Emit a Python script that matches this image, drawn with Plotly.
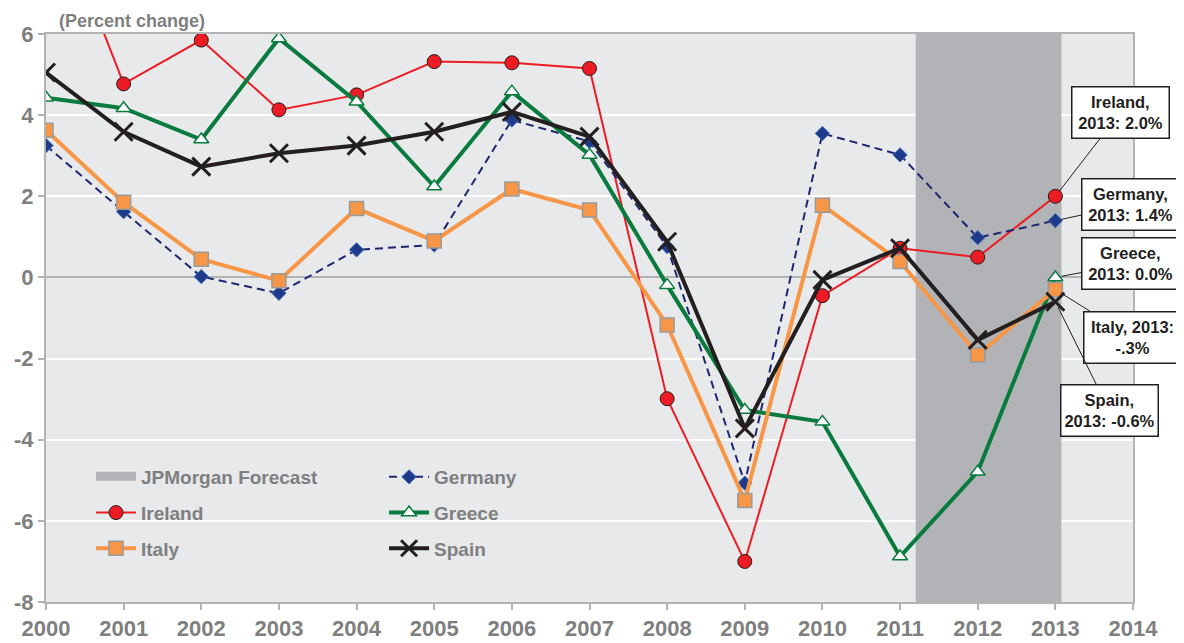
import plotly.graph_objects as go

years = list(range(2000, 2014))
ireland = [9.7, 4.77, 5.85, 4.13, 4.50, 5.32, 5.29, 5.15, -2.99, -7.0, -0.45, 0.72, 0.50, 2.0]
germany = [3.25, 1.62, 0.02, -0.39, 0.68, 0.80, 3.88, 3.35, 0.76, -5.07, 3.55, 3.02, 0.98, 1.4]
greece = [4.43, 4.17, 3.40, 5.89, 4.33, 2.24, 4.58, 3.02, -0.19, -3.27, -3.56, -6.88, -4.79, 0.0]
italy = [3.63, 1.85, 0.45, -0.08, 1.70, 0.90, 2.18, 1.66, -1.17, -5.50, 1.78, 0.39, -1.91, -0.3]
spain = [5.05, 3.59, 2.73, 3.06, 3.25, 3.59, 4.08, 3.47, 0.88, -3.72, -0.06, 0.72, -1.54, -0.6]
forecast_x = [2011.24, 2013.04, 2013.04, 2011.24, 2011.24]
forecast_y = [-8.5, -8.5, 6.5, 6.5, -8.5]
x_ticks = list(range(2000, 2015))
y_ticks = [-8, -6, -4, -2, 0, 2, 4, 6]

callouts = [
    ("Ireland,<br>2013: 2.0%", 2.0, 65, -84),
    ("Germany,<br>2013: 1.4%", 1.4, 75, -16),
    ("Greece,<br>2013: 0.0%", 0.0, 75, -14),
    ("Italy, 2013:<br>-.3%", -0.3, 77, 48),
    ("Spain,<br>2013: -0.6%", -0.6, 54, 109),
]

GRAY_TXT = "#7f7f7f"
FONT = "Liberation Sans, Arial, sans-serif"

fig = go.Figure()

fig.add_trace(go.Scatter(
    x=forecast_x, y=forecast_y, mode="lines", fill="toself",
    fillcolor="#b2b3b6", line=dict(width=6, color="#b2b3b6"),
    name="JPMorgan Forecast", legend="legend", legendgroup="f", hoverinfo="skip"))

fig.add_trace(go.Scatter(
    x=years, y=ireland, mode="lines+markers", name="Ireland", legend="legend", legendgroup="ir",
    line=dict(color="#ed1c24", width=2),
    marker=dict(symbol="circle", size=14, color="#ed1c24", line=dict(color="#231f20", width=1))))

fig.add_trace(go.Scatter(
    x=years, y=germany, mode="lines+markers", name="Germany", legend="legend2", legendgroup="de",
    line=dict(color="#1f2670", width=2, dash="8px,5px"),
    marker=dict(symbol="diamond", size=11, color="#1f3a8a", line=dict(color="#3d6fb6", width=1))))

fig.add_trace(go.Scatter(
    x=years, y=greece, mode="lines+markers", name="Greece", legend="legend2", legendgroup="gr",
    line=dict(color="#0a7b3e", width=4),
    marker=dict(symbol="triangle-up", size=13, color="white", line=dict(color="#0a7b3e", width=1.5))))

fig.add_trace(go.Scatter(
    x=years, y=italy, mode="lines+markers", name="Italy", legend="legend", legendgroup="it",
    line=dict(color="#f79646", width=4),
    marker=dict(symbol="square", size=14, color="#f79646", line=dict(color="#9a9a9a", width=1.5))))

fig.add_trace(go.Scatter(
    x=years, y=spain, mode="lines+markers", name="Spain", legend="legend2", legendgroup="es",
    line=dict(color="#231f20", width=4),
    marker=dict(symbol="x-thin", size=18, color="#231f20", line=dict(color="#231f20", width=3))))

for text, yv, ax, ay in callouts:
    fig.add_annotation(
        x=2013, y=yv, xref="x", yref="y", text="<b>" + text + "</b>",
        showarrow=True, arrowhead=0, arrowwidth=1, arrowcolor="#231f20",
        ax=ax, ay=ay, standoff=6,
        bgcolor="white", bordercolor="#231f20", borderwidth=1.5, borderpad=3,
        width=90, height=44,
        font=dict(family=FONT, size=16.5, color="#231f20"))

fig.add_annotation(
    x=0.0099, y=1.0, xref="paper", yref="paper", xanchor="left", yanchor="bottom",
    text="<b>(Percent change)</b>", showarrow=False,
    font=dict(family=FONT, size=18, color=GRAY_TXT), yshift=1)

legend_common = dict(
    bgcolor="rgba(0,0,0,0)", font=dict(family=FONT, size=19, color=GRAY_TXT, weight="bold"),
    orientation="v", xanchor="left", yanchor="top", tracegroupgap=8, itemwidth=40,
)

fig.update_layout(
    width=1176, height=635,
    margin=dict(l=38, r=51, t=26, b=41, autoexpand=False),
    paper_bgcolor="white", plot_bgcolor="#e8e9eb",
    showlegend=True,
    legend=dict(x=0.0414, y=0.2535, **legend_common),
    legend2=dict(x=0.311, y=0.2535, **legend_common),
    xaxis=dict(
        range=[2000, 2014], tickvals=x_ticks, ticktext=[str(v) for v in x_ticks],
        showgrid=False, zeroline=False, automargin=False,
        showline=True, linecolor="#b3b3b3", linewidth=2, mirror=True,
        ticks="outside", ticklen=6, tickwidth=2, tickcolor="#b3b3b3",
        tickfont=dict(family=FONT, size=22, color=GRAY_TXT, weight="bold"),
    ),
    yaxis=dict(
        range=[-8, 6], tickvals=y_ticks, ticktext=[str(v) for v in y_ticks],
        showgrid=True, gridcolor="white", gridwidth=1.5, automargin=False,
        zeroline=True, zerolinecolor="#b3b3b3", zerolinewidth=1.5,
        showline=True, linecolor="#b3b3b3", linewidth=2, mirror=True,
        ticks="outside", ticklen=6, tickwidth=2, tickcolor="#b3b3b3",
        tickfont=dict(family=FONT, size=22, color=GRAY_TXT, weight="bold"),
    ),
)

fig.write_html("out.html")
